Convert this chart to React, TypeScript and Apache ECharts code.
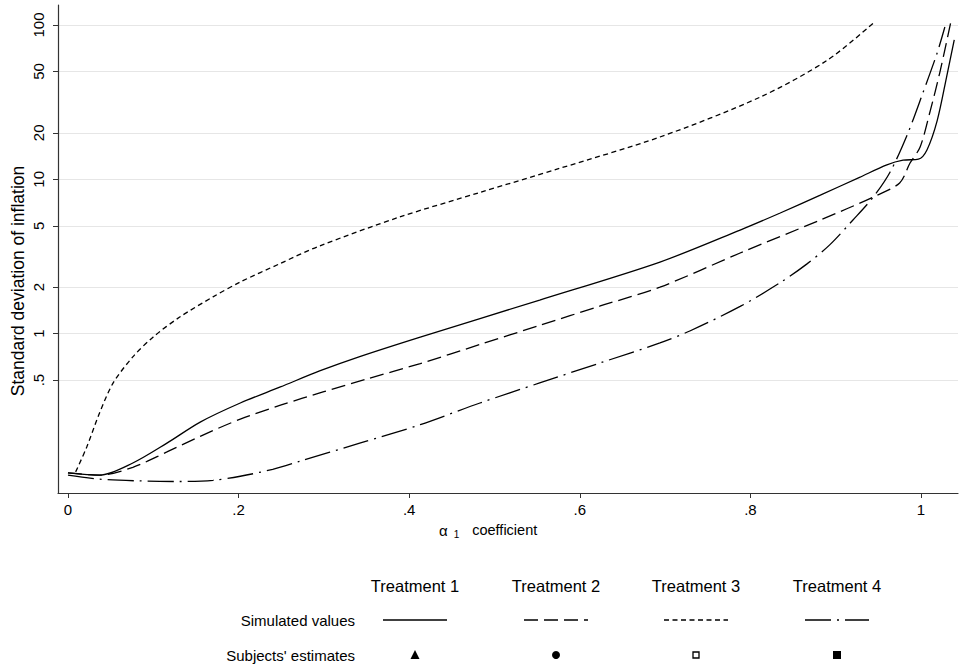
import React, { useEffect, useRef } from "react";
import * as echarts from "echarts";

// Tick values
const X_TICKS = [0, 0.2, 0.4, 0.6, 0.8, 1];
const Y_TICKS = [0.5, 1, 2, 5, 10, 20, 50, 100];

// Treatment 1 (solid)
const T1_X = [0, 0.037, 0.076, 0.116, 0.155, 0.202, 0.249, 0.295, 0.342, 0.413, 0.553, 0.694, 0.788, 0.835, 0.882, 0.928, 0.96, 0.979, 0.997, 1.007, 1.019, 1.03, 1.039];
const T1_Y = [0.125, 0.121, 0.145, 0.195, 0.267, 0.355, 0.451, 0.573, 0.71, 0.95, 1.65, 2.91, 4.69, 6.05, 7.9, 10.3, 12.4, 13.3, 13.5, 15.5, 24, 46, 80];

// Treatment 2 (dashed)
const T2_X = [0, 0.037, 0.076, 0.116, 0.155, 0.202, 0.25, 0.3, 0.35, 0.413, 0.483, 0.553, 0.624, 0.694, 0.788, 0.882, 0.944, 0.975, 0.987, 0.999, 1.011, 1.022, 1.036];
const T2_Y = [0.125, 0.121, 0.136, 0.171, 0.216, 0.279, 0.345, 0.42, 0.507, 0.64, 0.85, 1.13, 1.51, 2.0, 3.33, 5.45, 7.67, 9.47, 12.7, 16.2, 28, 49, 111];

// Treatment 3 (short dash)
const T3_X = [0.009, 0.022, 0.037, 0.053, 0.076, 0.1, 0.131, 0.17, 0.202, 0.249, 0.295, 0.389, 0.483, 0.577, 0.694, 0.811, 0.89, 0.946];
const T3_Y = [0.127, 0.184, 0.306, 0.479, 0.706, 0.952, 1.28, 1.73, 2.16, 2.85, 3.7, 5.7, 8.22, 11.8, 18.8, 34, 59, 105];

// Treatment 4 (dash-dot)
const T4_X = [0, 0.037, 0.084, 0.131, 0.17, 0.202, 0.24, 0.272, 0.342, 0.413, 0.483, 0.553, 0.624, 0.694, 0.729, 0.788, 0.835, 0.866, 0.893, 0.92, 0.944, 0.964, 0.984, 1.002, 1.019, 1.028];
const T4_Y = [0.121, 0.114, 0.111, 0.11, 0.112, 0.119, 0.132, 0.149, 0.195, 0.257, 0.355, 0.479, 0.646, 0.87, 1.04, 1.5, 2.14, 2.82, 3.76, 5.43, 7.67, 11.2, 19.5, 36, 66, 97];

const TREATMENTS = ["Treatment 1", "Treatment 2", "Treatment 3", "Treatment 4"];
const ROW_LABELS = ["Simulated values", "Subjects' estimates"];

const FONT = "Liberation Sans, Arial, sans-serif";
const DASHES: any[] = ["solid", [14, 6], [5, 3.5], [26, 6, 2, 6]];

function toSeries(xs: number[], ys: number[]) {
  return xs.map((x, i) => [x, Math.log10(ys[i])]);
}

function fmtY(v: number) {
  const n = Math.round(Math.pow(10, v) * 100) / 100;
  return n < 1 ? String(n).replace(/^0/, "") : String(n);
}

function fmtX(v: number) {
  const r = Math.round(v * 100) / 100;
  if (r === 0) return "0";
  if (r === 1) return "1";
  return String(r).replace(/^0/, "");
}

export default function App() {
  const ref = useRef<HTMLDivElement>(null);
  useEffect(() => {
    if (!ref.current) return;
    const chart = echarts.init(ref.current, undefined, { renderer: "svg" });
    const seriesData = [
      toSeries(T1_X, T1_Y),
      toSeries(T2_X, T2_Y),
      toSeries(T3_X, T3_Y),
      toSeries(T4_X, T4_Y),
    ];
    const colX = [415, 556, 696, 837];
    const lineHalf = 32;
    const graphics: any[] = [];
    // y axis title
    graphics.push({
      type: "text",
      x: 18,
      y: 281,
      rotation: Math.PI / 2,
      style: {
        text: "Standard deviation of inflation",
        font: `17.5px ${FONT}`,
        fill: "#000",
        align: "center",
        verticalAlign: "middle",
      },
    });
    // x axis title
    graphics.push({
      type: "text",
      x: 439,
      y: 530,
      style: {
        text: "{a|α}{s|1}{b|coefficient}",
        fill: "#000",
        verticalAlign: "middle",
        rich: {
          a: { font: `15px ${FONT}`, fill: "#000" },
          s: { font: `10px ${FONT}`, fill: "#000", padding: [8, 0, 0, 6] },
          b: { font: `14.5px ${FONT}`, fill: "#000", padding: [0, 0, 0, 13] },
        },
      },
    });
    TREATMENTS.forEach((t, i) => {
      graphics.push({
        type: "text",
        x: colX[i],
        y: 586,
        style: { text: t, font: `16.5px ${FONT}`, fill: "#000", align: "center", verticalAlign: "middle" },
      });
      graphics.push({
        type: "line",
        shape: { x1: colX[i] - lineHalf, y1: 620, x2: colX[i] + lineHalf, y2: 620 },
        style: { stroke: "#000", lineWidth: 1.3, lineDash: DASHES[i] === "solid" ? null : DASHES[i] },
      });
    });
    ROW_LABELS.forEach((t, i) => {
      graphics.push({
        type: "text",
        x: 355,
        y: 620 + i * 35,
        style: { text: t, font: `15px ${FONT}`, fill: "#000", align: "right", verticalAlign: "middle" },
      });
    });
    // markers
    graphics.push({
      type: "polygon",
      shape: { points: [[colX[0], 650], [colX[0] - 4.5, 659], [colX[0] + 4.5, 659]] },
      style: { fill: "#000" },
    });
    graphics.push({ type: "circle", shape: { cx: colX[1], cy: 655, r: 4 }, style: { fill: "#000" } });
    graphics.push({
      type: "rect",
      shape: { x: colX[2] - 3, y: 652, width: 6, height: 6 },
      style: { fill: "#fff", stroke: "#000", lineWidth: 1.3 },
    });
    graphics.push({ type: "rect", shape: { x: colX[3] - 4, y: 651, width: 8, height: 8 }, style: { fill: "#000" } });

    chart.setOption({
      animation: false,
      backgroundColor: "#fff",
      grid: { left: 58, top: 5, width: 900, height: 488, containLabel: false },
      xAxis: {
        type: "value",
        min: -0.0117,
        max: 1.0434,
        axisLine: { show: true, onZero: false, lineStyle: { color: "#333", width: 1.2 } },
        axisTick: { show: true, length: 5, customValues: X_TICKS, lineStyle: { color: "#333" } },
        axisLabel: {
          customValues: X_TICKS,
          formatter: fmtX,
          fontFamily: FONT,
          fontSize: 15,
          color: "#000",
          margin: 9,
        },
        splitLine: { show: false },
      },
      yAxis: {
        type: "value",
        min: -1.033,
        max: 2.1296,
        axisLine: { show: true, onZero: false, lineStyle: { color: "#333", width: 1.2 } },
        axisTick: {
          show: true,
          length: 5,
          customValues: Y_TICKS.map((v) => Math.log10(v)),
          lineStyle: { color: "#333" },
        },
        axisLabel: {
          customValues: Y_TICKS.map((v) => Math.log10(v)),
          formatter: fmtY,
          rotate: 90,
          fontFamily: FONT,
          fontSize: 15,
          color: "#000",
          margin: 12,
        },
        splitLine: { show: true, lineStyle: { color: "#e6e6e6", width: 1.2 } },
      },
      series: seriesData.map((d, i) => ({
        type: "line",
        data: d,
        showSymbol: false,
        smooth: 0.3,
        clip: false,
        lineStyle: { color: "#000", width: 1.3, type: DASHES[i] },
        emphasis: { disabled: true },
      })),
      graphic: graphics,
    });
    return () => chart.dispose();
  }, []);
  return (
    <div
      ref={ref}
      style={{ position: "fixed", left: 0, top: 0, width: 960, height: 669, background: "#fff" }}
    />
  );
}
